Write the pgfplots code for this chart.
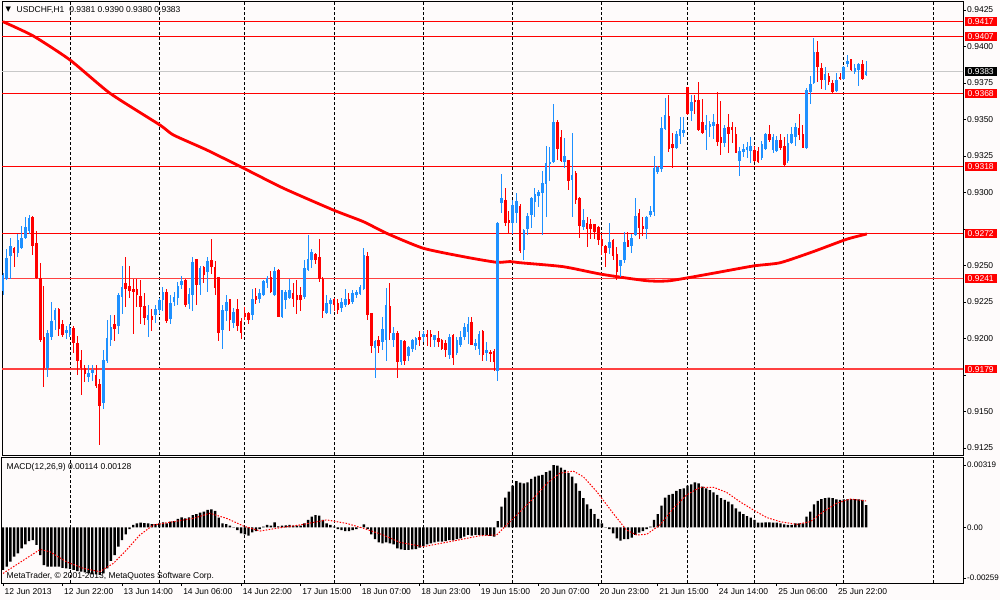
\documentclass[border=0pt]{standalone}
\usepackage{fontspec}
\setmainfont{Liberation Sans}
\newfontfamily\dejavu{DejaVu Sans}
\usepackage{pgfplots}
\pgfplotsset{compat=1.18}
\usepackage{pgfplotstable}
\definecolor{bg}{RGB}{254,251,251}
\definecolor{cblue}{RGB}{30,144,255}
\definecolor{cred}{RGB}{255,0,0}
\definecolor{bidgray}{RGB}{200,200,200}
\newcommand\lf{\fontsize{8.5}{10}\selectfont}

\pgfplotstableread{
i o h l c
0 0.9233 0.9245 0.9230 0.9243
1 0.9241 0.9261 0.9240 0.9255
2 0.9257 0.9269 0.9241 0.9263
3 0.9262 0.9263 0.9249 0.9259
4 0.9259 0.9272 0.9256 0.9267
5 0.9262 0.9277 0.9261 0.9269
6 0.9269 0.9283 0.9268 0.9276
7 0.9274 0.9285 0.9272 0.9282
8 0.9283 0.9284 0.9257 0.9264
9 0.9265 0.9274 0.9241 0.9242
10 0.9241 0.9252 0.9198 0.9199
11 0.9201 0.9236 0.9167 0.9180
12 0.9180 0.9206 0.9174 0.9204
13 0.9201 0.9225 0.9199 0.9212
14 0.9213 0.9221 0.9206 0.9219
15 0.9220 0.9221 0.9202 0.9207
16 0.9210 0.9213 0.9201 0.9203
17 0.9204 0.9209 0.9200 0.9206
18 0.9203 0.9210 0.9201 0.9207
19 0.9207 0.9209 0.9190 0.9197
20 0.9197 0.9202 0.9175 0.9185
21 0.9185 0.9192 0.9161 0.9180
22 0.9180 0.9182 0.9170 0.9176
23 0.9174 0.9182 0.9170 0.9176
24 0.9177 0.9182 0.9171 0.9178
25 0.9175 0.9182 0.9166 0.9168
26 0.9169 0.9172 0.9127 0.9154
27 0.9156 0.9192 0.9152 0.9185
28 0.9185 0.9213 0.9183 0.9200
29 0.9199 0.9216 0.9195 0.9208
30 0.9210 0.9216 0.9198 0.9207
31 0.9209 0.9231 0.9203 0.9230
32 0.9229 0.9250 0.9217 0.9235
33 0.9238 0.9256 0.9222 0.9234
34 0.9236 0.9250 0.9228 0.9233
35 0.9234 0.9241 0.9203 0.9232
36 0.9234 0.9241 0.9222 0.9230
37 0.9229 0.9240 0.9210 0.9222
38 0.9222 0.9231 0.9209 0.9214
39 0.9213 0.9223 0.9201 0.9216
40 0.9215 0.9220 0.9205 0.9213
41 0.9216 0.9223 0.9211 0.9220
42 0.9220 0.9228 0.9217 0.9226
43 0.9227 0.9235 0.9219 0.9232
44 0.9232 0.9234 0.9211 0.9212
45 0.9214 0.9230 0.9210 0.9224
46 0.9225 0.9232 0.9222 0.9228
47 0.9228 0.9239 0.9223 0.9236
48 0.9237 0.9243 0.9234 0.9239
49 0.9240 0.9241 0.9222 0.9223
50 0.9224 0.9235 0.9220 0.9230
51 0.9230 0.9256 0.9219 0.9252
52 0.9254 0.9254 0.9223 0.9237
53 0.9237 0.9250 0.9230 0.9248
54 0.9249 0.9250 0.9238 0.9244
55 0.9246 0.9256 0.9232 0.9253
56 0.9254 0.9268 0.9244 0.9249
57 0.9249 0.9253 0.9230 0.9235
58 0.9242 0.9242 0.9198 0.9204
59 0.9206 0.9223 0.9193 0.9219
60 0.9219 0.9230 0.9212 0.9225
61 0.9227 0.9227 0.9205 0.9213
62 0.9211 0.9221 0.9207 0.9218
63 0.9220 0.9227 0.9205 0.9209
64 0.9212 0.9214 0.9200 0.9204
65 0.9217 0.9222 0.9213 0.9215
66 0.9217 0.9218 0.9210 0.9213
67 0.9216 0.9234 0.9213 0.9227
68 0.9229 0.9235 0.9224 0.9227
69 0.9227 0.9234 0.9224 0.9231
70 0.9230 0.9240 0.9229 0.9239
71 0.9238 0.9243 0.9235 0.9241
72 0.9242 0.9246 0.9231 0.9232
73 0.9230 0.9249 0.9229 0.9246
74 0.9247 0.9248 0.9215 0.9215
75 0.9215 0.9233 0.9214 0.9233
76 0.9227 0.9233 0.9220 0.9232
77 0.9228 0.9241 0.9227 0.9233
78 0.9231 0.9238 0.9222 0.9227
79 0.9230 0.9240 0.9217 0.9227
80 0.9230 0.9235 0.9219 0.9227
81 0.9229 0.9254 0.9227 0.9248
82 0.9247 0.9271 0.9246 0.9254
83 0.9254 0.9261 0.9248 0.9259
84 0.9258 0.9259 0.9251 0.9254
85 0.9256 0.9268 0.9239 0.9241
86 0.9241 0.9242 0.9214 0.9219
87 0.9218 0.9230 0.9217 0.9224
88 0.9224 0.9228 0.9217 0.9226
89 0.9227 0.9228 0.9219 0.9223
90 0.9224 0.9227 0.9217 0.9220
91 0.9221 0.9228 0.9218 0.9225
92 0.9223 0.9234 0.9222 0.9227
93 0.9227 0.9231 0.9223 0.9224
94 0.9225 0.9233 0.9224 0.9231
95 0.9230 0.9233 0.9228 0.9232
96 0.9231 0.9237 0.9230 0.9235
97 0.9234 0.9262 0.9233 0.9257
98 0.9256 0.9259 0.9213 0.9216
99 0.9217 0.9217 0.9190 0.9195
100 0.9194 0.9199 0.9173 0.9198
101 0.9199 0.9202 0.9190 0.9195
102 0.9198 0.9215 0.9192 0.9206
103 0.9199 0.9235 0.9185 0.9223
104 0.9222 0.9238 0.9199 0.9204
105 0.9199 0.9208 0.9194 0.9204
106 0.9204 0.9205 0.9173 0.9184
107 0.9184 0.9199 0.9182 0.9199
108 0.9198 0.9199 0.9182 0.9185
109 0.9188 0.9195 0.9185 0.9194
110 0.9193 0.9200 0.9191 0.9199
111 0.9196 0.9201 0.9192 0.9200
112 0.9201 0.9205 0.9195 0.9199
113 0.9201 0.9205 0.9198 0.9203
114 0.9203 0.9206 0.9195 0.9201
115 0.9203 0.9206 0.9194 0.9201
116 0.9199 0.9202 0.9194 0.9202
117 0.9200 0.9205 0.9194 0.9198
118 0.9199 0.9200 0.9192 0.9193
119 0.9197 0.9199 0.9187 0.9192
120 0.9189 0.9203 0.9186 0.9201
121 0.9202 0.9203 0.9182 0.9187
122 0.9190 0.9201 0.9189 0.9199
123 0.9196 0.9205 0.9194 0.9201
124 0.9201 0.9211 0.9199 0.9208
125 0.9205 0.9215 0.9196 0.9210
126 0.9211 0.9215 0.9196 0.9196
127 0.9195 0.9200 0.9192 0.9197
128 0.9193 0.9205 0.9189 0.9203
129 0.9205 0.9206 0.9185 0.9189
130 0.9190 0.9198 0.9185 0.9192
131 0.9191 0.9192 0.9184 0.9190
132 0.9191 0.9193 0.9178 0.9184
133 0.9178 0.9280 0.9171 0.9279
134 0.9293 0.9313 0.9286 0.9296
135 0.9295 0.9303 0.9277 0.9279
136 0.9281 0.9287 0.9272 0.9279
137 0.9279 0.9295 0.9272 0.9291
138 0.9286 0.9300 0.9279 0.9294
139 0.9291 0.9292 0.9259 0.9260
140 0.9261 0.9275 0.9254 0.9274
141 0.9275 0.9286 0.9271 0.9284
142 0.9285 0.9297 0.9276 0.9296
143 0.9294 0.9303 0.9283 0.9299
144 0.9298 0.9302 0.9290 0.9300
145 0.9300 0.9315 0.9271 0.9306
146 0.9306 0.9332 0.9283 0.9320
147 0.9320 0.9331 0.9308 0.9321
148 0.9321 0.9361 0.9320 0.9348
149 0.9348 0.9350 0.9322 0.9330
150 0.9338 0.9343 0.9321 0.9322
151 0.9321 0.9337 0.9317 0.9325
152 0.9322 0.9322 0.9302 0.9308
153 0.9309 0.9341 0.9283 0.9312
154 0.9313 0.9315 0.9292 0.9295
155 0.9296 0.9297 0.9269 0.9277
156 0.9277 0.9289 0.9274 0.9281
157 0.9279 0.9283 0.9263 0.9275
158 0.9278 0.9282 0.9268 0.9275
159 0.9278 0.9278 0.9268 0.9273
160 0.9276 0.9277 0.9264 0.9268
161 0.9268 0.9271 0.9257 0.9264
162 0.9263 0.9264 0.9249 0.9259
163 0.9262 0.9279 0.9258 0.9266
164 0.9267 0.9268 0.9254 0.9257
165 0.9258 0.9263 0.9240 0.9246
166 0.9250 0.9254 0.9242 0.9254
167 0.9254 0.9273 0.9252 0.9266
168 0.9267 0.9273 0.9263 0.9263
169 0.9264 0.9272 0.9259 0.9269
170 0.9271 0.9296 0.9270 0.9284
171 0.9286 0.9289 0.9268 0.9276
172 0.9277 0.9283 0.9270 0.9275
173 0.9275 0.9284 0.9268 0.9283
174 0.9285 0.9291 0.9283 0.9287
175 0.9287 0.9325 0.9284 0.9317
176 0.9314 0.9318 0.9313 0.9317
177 0.9316 0.9352 0.9314 0.9344
178 0.9344 0.9365 0.9343 0.9353
179 0.9352 0.9367 0.9328 0.9330
180 0.9333 0.9341 0.9317 0.9331
181 0.9331 0.9342 0.9330 0.9340
182 0.9339 0.9352 0.9333 0.9343
183 0.9341 0.9352 0.9338 0.9343
184 0.9372 0.9372 0.9353 0.9354
185 0.9356 0.9367 0.9349 0.9362
186 0.9363 0.9367 0.9354 0.9362
187 0.9363 0.9376 0.9342 0.9343
188 0.9348 0.9364 0.9340 0.9341
189 0.9343 0.9353 0.9329 0.9346
190 0.9345 0.9349 0.9338 0.9347
191 0.9346 0.9354 0.9337 0.9348
192 0.9347 0.9369 0.9332 0.9335
193 0.9338 0.9363 0.9326 0.9334
194 0.9334 0.9346 0.9331 0.9344
195 0.9345 0.9354 0.9327 0.9340
196 0.9345 0.9348 0.9334 0.9343
197 0.9340 0.9345 0.9327 0.9327
198 0.9322 0.9331 0.9311 0.9328
199 0.9328 0.9333 0.9324 0.9330
200 0.9329 0.9335 0.9324 0.9331
201 0.9329 0.9338 0.9320 0.9332
202 0.9329 0.9332 0.9321 0.9322
203 0.9328 0.9331 0.9320 0.9321
204 0.9324 0.9335 0.9322 0.9333
205 0.9330 0.9341 0.9329 0.9340
206 0.9340 0.9346 0.9335 0.9336
207 0.9329 0.9340 0.9327 0.9338
208 0.9329 0.9339 0.9328 0.9336
209 0.9336 0.9340 0.9329 0.9331
210 0.9332 0.9338 0.9318 0.9319
211 0.9322 0.9340 0.9320 0.9334
212 0.9334 0.9345 0.9333 0.9340
213 0.9338 0.9348 0.9332 0.9345
214 0.9344 0.9354 0.9336 0.9340
215 0.9340 0.9346 0.9331 0.9331
216 0.9331 0.9372 0.9330 0.9370
217 0.9369 0.9380 0.9361 0.9374
218 0.9375 0.9406 0.9374 0.9396
219 0.9396 0.9404 0.9376 0.9386
220 0.9385 0.9389 0.9371 0.9377
221 0.9377 0.9386 0.9370 0.9381
222 0.9380 0.9382 0.9374 0.9376
223 0.9375 0.9377 0.9368 0.9369
224 0.9370 0.9382 0.9369 0.9377
225 0.9379 0.9382 0.9377 0.9378
226 0.9378 0.9387 0.9377 0.9386
227 0.9388 0.9394 0.9386 0.9390
228 0.9391 0.9391 0.9383 0.9384
229 0.9383 0.9388 0.9381 0.9385
230 0.9384 0.9389 0.9373 0.9388
231 0.9388 0.9391 0.9377 0.9378
232 0.9381 0.9390 0.9380 0.9383
}\candles

\pgfplotstableread{
i v
0 -0.00218
1 -0.00201
2 -0.00176
3 -0.00150
4 -0.00133
5 -0.00108
6 -0.00087
7 -0.00070
8 -0.00065
9 -0.00090
10 -0.00142
11 -0.00193
12 -0.00201
13 -0.00201
14 -0.00201
15 -0.00201
16 -0.00207
17 -0.00210
18 -0.00213
19 -0.00218
20 -0.00224
21 -0.00227
22 -0.00230
23 -0.00236
24 -0.00241
25 -0.00241
26 -0.00244
27 -0.00236
28 -0.00210
29 -0.00172
30 -0.00142
31 -0.00099
32 -0.00065
33 -0.00036
34 -0.00009
35 0.00012
36 0.00020
37 0.00024
38 0.00022
39 0.00020
40 0.00017
41 0.00017
42 0.00020
43 0.00026
44 0.00020
45 0.00029
46 0.00032
47 0.00043
48 0.00051
49 0.00046
50 0.00051
51 0.00063
52 0.00068
53 0.00075
54 0.00080
55 0.00089
56 0.00092
57 0.00084
58 0.00050
59 0.00020
60 0.00017
61 0.00009
62 0.00001
63 -0.00014
64 -0.00031
65 -0.00036
66 -0.00043
67 -0.00026
68 -0.00019
69 -0.00009
70 0.00003
71 0.00012
72 0.00009
73 0.00026
74 0.00005
75 0.00009
76 0.00010
77 0.00012
78 0.00009
79 0.00009
80 0.00009
81 0.00020
82 0.00038
83 0.00055
84 0.00063
85 0.00060
86 0.00038
87 0.00020
88 0.00012
89 0.00003
90 -0.00009
91 -0.00014
92 -0.00019
93 -0.00019
94 -0.00014
95 -0.00009
96 -0.00002
97 0.00015
98 -0.00009
99 -0.00036
100 -0.00060
101 -0.00077
102 -0.00082
103 -0.00077
104 -0.00082
105 -0.00087
106 -0.00108
107 -0.00113
108 -0.00116
109 -0.00116
110 -0.00113
111 -0.00111
112 -0.00104
113 -0.00096
114 -0.00087
115 -0.00082
116 -0.00077
117 -0.00073
118 -0.00073
119 -0.00070
120 -0.00065
121 -0.00067
122 -0.00061
123 -0.00056
124 -0.00048
125 -0.00039
126 -0.00043
127 -0.00039
128 -0.00039
129 -0.00040
130 -0.00041
131 -0.00044
132 -0.00048
133 0.00032
134 0.00106
135 0.00152
136 0.00183
137 0.00213
138 0.00237
139 0.00229
140 0.00225
141 0.00230
142 0.00248
143 0.00259
144 0.00265
145 0.00268
146 0.00282
147 0.00290
148 0.00319
149 0.00316
150 0.00306
151 0.00294
152 0.00277
153 0.00259
154 0.00225
155 0.00186
156 0.00149
157 0.00118
158 0.00094
159 0.00067
160 0.00043
161 0.00020
162 -0.00002
163 -0.00009
164 -0.00031
165 -0.00056
166 -0.00068
167 -0.00061
168 -0.00060
169 -0.00053
170 -0.00039
171 -0.00027
172 -0.00019
173 -0.00009
174 0.00003
175 0.00038
176 0.00067
177 0.00111
178 0.00152
179 0.00166
180 0.00171
181 0.00186
182 0.00196
183 0.00200
184 0.00213
185 0.00220
186 0.00230
187 0.00225
188 0.00208
189 0.00200
190 0.00191
191 0.00179
192 0.00166
193 0.00149
194 0.00140
195 0.00131
196 0.00118
197 0.00097
198 0.00080
199 0.00067
200 0.00058
201 0.00050
202 0.00038
203 0.00024
204 0.00024
205 0.00026
206 0.00026
207 0.00024
208 0.00024
209 0.00020
210 0.00015
211 0.00012
212 0.00012
213 0.00020
214 0.00020
215 0.00020
216 0.00055
217 0.00080
218 0.00118
219 0.00135
220 0.00145
221 0.00149
222 0.00152
223 0.00149
224 0.00143
225 0.00140
226 0.00143
227 0.00145
228 0.00145
229 0.00145
230 0.00143
231 0.00140
232 0.00114
}\macd

\pgfplotsset{
  mtaxis/.style={
    scale only axis, width=961pt, anchor=south west,
    xmin=-0.27, xmax=258.06,
    clip mode=individual,
    scaled ticks=false,
    axis line style={black, line width=1pt},
    tick style={black, line width=0.8pt},
    tick align=outside, major tick length=3pt,
    ytick pos=right,
    yticklabel style={font=\lf, inner sep=0pt, xshift=1pt, text=black},
    extra x ticks={18,42,65,89,113,137,161,184,202,226,250},
    extra x tick labels={},
    extra x tick style={grid=major, major tick length=0pt},
    major grid style={black, line width=0.9pt, dash pattern=on 3pt off 2pt},
  },
  wick/.style={draw=none, mark=none, forget plot,
    error bars/.cd, y dir=both, y explicit, error mark=none,
    error bar style={draw=#1, line width=1pt, solid}},
  body/.style={draw=none, mark=none, forget plot,
    error bars/.cd, y dir=both, y explicit, error mark=none,
    error bar style={draw=#1, line width=2.6pt, solid, line cap=butt}},
}

\begin{document}
\begin{tikzpicture}
\fill[bg] (0pt,0pt) rectangle (1000pt,600pt);
\useasboundingbox (0pt,0pt) rectangle (1000pt,600pt);

% ---------------- main price panel ----------------
\begin{axis}[mtaxis, at={(2pt,145pt)}, height=453pt,
  ymin=0.912022, ymax=0.943048,
  xtick=\empty,
  ytick={0.9125,0.915,0.9175,0.92,0.9225,0.925,0.9275,0.93,0.9325,0.935,0.9375,0.94,0.9425},
  yticklabels={0.9125,0.9150,,0.9200,0.9225,0.9250,,0.9300,0.9325,0.9350,0.9375,0.9400,0.9425},
]
% horizontal levels
\addplot[cred, line width=1pt, forget plot] coordinates {(-2,0.9417) (260,0.9417)};
\addplot[cred, line width=1pt, forget plot] coordinates {(-2,0.9407) (260,0.9407)};
\addplot[cred, line width=1pt, forget plot] coordinates {(-2,0.9368) (260,0.9368)};
\addplot[cred, line width=1pt, forget plot] coordinates {(-2,0.9318) (260,0.9318)};
\addplot[cred, line width=1pt, forget plot] coordinates {(-2,0.9272) (260,0.9272)};
\addplot[cred!75, line width=1.6pt, forget plot] coordinates {(-2,0.9241) (260,0.9241)};
\addplot[cred!75, line width=1.6pt, forget plot] coordinates {(-2,0.9179) (260,0.9179)};
\addplot[bidgray, line width=1.6pt, forget plot] coordinates {(-2,0.9383) (260,0.9383)};
% moving average
\addplot[cred, line width=2.8pt, smooth, tension=0.35, forget plot] coordinates {
(0,0.94170) (8.15,0.94072) (18,0.93908) (28.8,0.93679) (42.2,0.93462) (45.8,0.93394)
(54.8,0.93291) (65.1,0.93161) (75.4,0.93029) (88.8,0.92880) (96.9,0.92800)
(103.1,0.92721) (113,0.92618) (124.7,0.92556) (132.7,0.92522) (136.3,0.92527)
(139,0.92519) (150.6,0.92492) (160.9,0.92440) (173,0.92396) (179.3,0.92396)
(190.9,0.92447) (201.7,0.92497) (208.9,0.92519) (217.8,0.92595) (226.8,0.92680) (232.2,0.92716)};
% candles: up (blue)
\addplot[wick=cblue] table[x=i, y expr={(\thisrow{h}+\thisrow{l})/2}, y error expr={(\thisrow{h}-\thisrow{l})/2},
  restrict expr to domain={\thisrow{c}-\thisrow{o}}{0:1}] {\candles};
\addplot[body=cblue] table[x=i, y expr={(\thisrow{o}+\thisrow{c})/2}, y error expr={abs(\thisrow{c}-\thisrow{o})/2+0.00002},
  restrict expr to domain={\thisrow{c}-\thisrow{o}}{0:1}] {\candles};
% candles: down (red)
\addplot[wick=cred] table[x=i, y expr={(\thisrow{h}+\thisrow{l})/2}, y error expr={(\thisrow{h}-\thisrow{l})/2},
  restrict expr to domain={\thisrow{c}-\thisrow{o}}{-1:-0.00001}] {\candles};
\addplot[body=cred] table[x=i, y expr={(\thisrow{o}+\thisrow{c})/2}, y error expr={abs(\thisrow{c}-\thisrow{o})/2+0.00002},
  restrict expr to domain={\thisrow{c}-\thisrow{o}}{-1:-0.00001}] {\candles};
% anchors for the price boxes
\coordinate (p9417) at (axis cs:258.06,0.9417);
\coordinate (p9407) at (axis cs:258.06,0.9407);
\coordinate (p9383) at (axis cs:258.06,0.9383);
\coordinate (p9368) at (axis cs:258.06,0.9368);
\coordinate (p9318) at (axis cs:258.06,0.9318);
\coordinate (p9272) at (axis cs:258.06,0.9272);
\coordinate (p9241) at (axis cs:258.06,0.9241);
\coordinate (p9179) at (axis cs:258.06,0.9179);
\end{axis}

% ---------------- MACD panel ----------------
\begin{axis}[mtaxis, at={(2pt,17pt)}, height=126pt,
  ymin=-0.00285, ymax=0.0036,
  xtick={0,16,32,48,64,80,96,112,128,144,160,176,192,208,224},
  xticklabels={12 Jun 2013,12 Jun 22:00,13 Jun 14:00,14 Jun 06:00,14 Jun 22:00,17 Jun 15:00,18 Jun 07:00,18 Jun 23:00,19 Jun 15:00,20 Jun 07:00,20 Jun 23:00,21 Jun 15:00,24 Jun 14:00,25 Jun 06:00,25 Jun 22:00},
  xtick pos=bottom,
  xticklabel style={font=\lf, anchor=north west, inner sep=0pt, xshift=1.5pt, yshift=-2pt, text=black},
  ytick={-0.00259,0,0.00319},
  yticklabels={-0.00259,0.00,0.00319},
  yticklabel style={font=\fontsize{8}{10}\selectfont},
]
\addplot[ybar, bar width=2.4pt, fill=black, draw=none, forget plot] table[x=i, y=v] {\macd};
\addplot[cred, line width=1pt, dash pattern=on 1.5pt off 1.5pt, forget plot] coordinates {
(0,-0.00236) (10,-0.00113) (12.6,-0.00125) (17,-0.00176) (21.6,-0.0021) (26,-0.00227)
(29.7,-0.00184) (33.2,-0.00116) (36.8,-0.00039) (40.4,0.00012) (45.8,0.00029)
(51.2,0.00046) (55.6,0.00072) (60.1,0.00046) (64.6,0.00007) (69.1,-0.00019)
(74.5,-0.00002) (79.8,0.00012) (87,0.00038) (92.4,0.00020) (96.9,-0.00005)
(102.2,-0.00039) (106.7,-0.00077) (113,-0.00099) (120.2,-0.00073) (128.2,-0.00043)
(132.7,-0.00039) (135.4,0.00012) (139,0.0008) (142.6,0.00149) (146.2,0.00225)
(149.7,0.00277) (153.3,0.00288) (156,0.00259) (159.6,0.00183) (164,0.00072)
(167.6,-0.00014) (170.3,-0.00039) (173,-0.00036) (176.6,0.00012) (180.2,0.00097)
(183.8,0.00166) (187.4,0.00205) (191,0.00205) (194.5,0.00179) (198.1,0.00131)
(201.7,0.00089) (205.3,0.0005) (208.9,0.00029) (213.4,0.00015) (217,0.00029)
(220.5,0.0008) (224.1,0.00123) (227.7,0.00145) (232,0.00135)};
\end{axis}

% ---------------- price boxes on the right scale ----------------
\tikzset{pbox/.style={anchor=west, xshift=1.5pt, font=\lf, text=white, inner xsep=3pt, inner ysep=1.3pt, fill=#1}}
\node[pbox=cred] at (p9417) {0.9417};
\node[pbox=cred] at (p9407) {0.9407};
\node[pbox=black] at (p9383) {0.9383};
\node[pbox=cred] at (p9368) {0.9368};
\node[pbox=cred] at (p9318) {0.9318};
\node[pbox=cred] at (p9272) {0.9272};
\node[pbox=cred] at (p9241) {0.9241};
\node[pbox=cred] at (p9179) {0.9179};

% ---------------- texts ----------------
\node[anchor=west, inner sep=0pt, font=\fontsize{7}{8}\selectfont\dejavu] at (5.5pt,590pt) {▼};
\node[anchor=west, inner sep=0pt, font=\lf] at (16.5pt,590pt) {USDCHF,H1\hspace{5pt}0.9381 0.9390 0.9380 0.9383};
\node[anchor=west, inner sep=0pt, font=\lf] at (6.5pt,132.7pt) {MACD(12,26,9) 0.00114 0.00128};
\node[anchor=west, inner sep=0pt, font=\lf] at (6.5pt,23.3pt) {MetaTrader, © 2001-2013, MetaQuotes Software Corp.};
\end{tikzpicture}
\end{document}
